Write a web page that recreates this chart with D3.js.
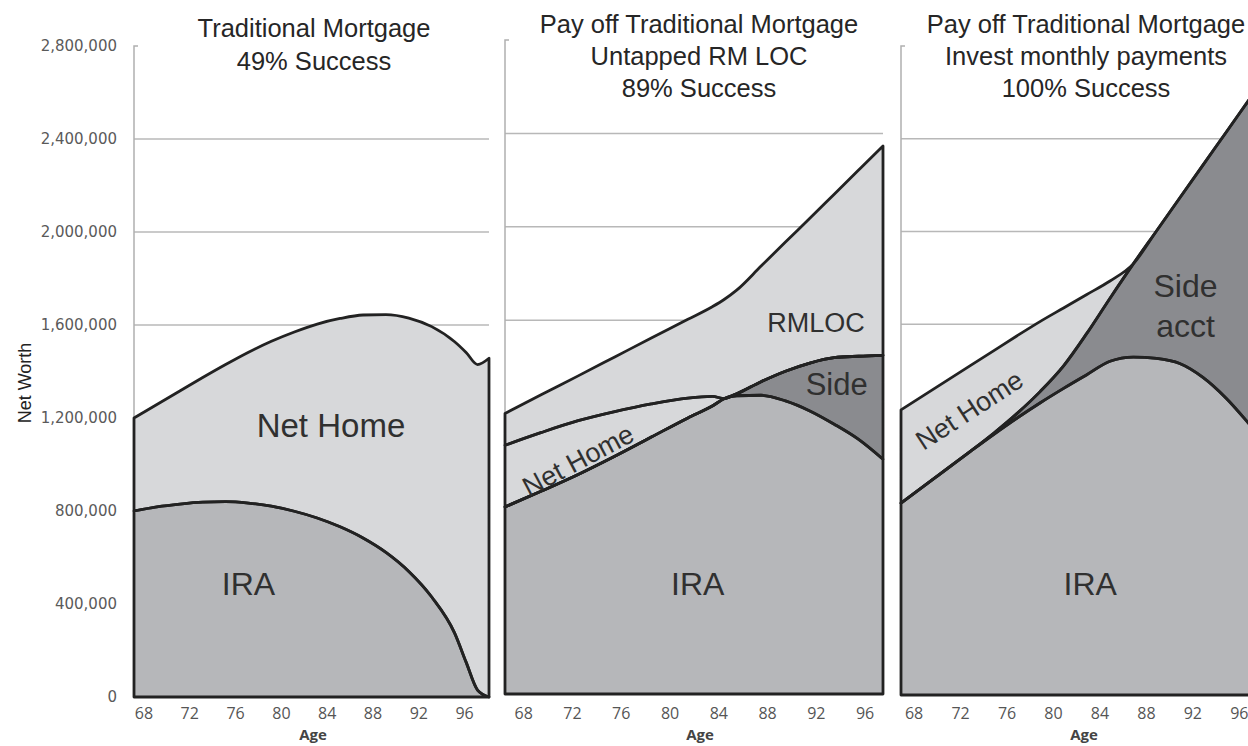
<!DOCTYPE html>
<html>
<head>
<meta charset="utf-8">
<script src="https://cdn.jsdelivr.net/npm/d3@7"></script>
<style>
  body { margin: 0; background: #fff; }
  svg { display: block; }
  .title { font-family: "Liberation Sans", Arial, sans-serif; font-size: 25.5px; fill: #262626; text-anchor: middle; }
  .y-label { font-family: "DejaVu Sans", sans-serif; font-size: 15px; fill: #5a5a5a; }
  .x-label { font-family: "Open Sans", sans-serif; font-size: 16px; fill: #555; }
  .age-label { font-family: "Open Sans", sans-serif; font-weight: bold; font-size: 15px; fill: #444; text-anchor: middle; }
  .worth-label { font-family: "Liberation Sans", Arial, sans-serif; font-size: 18px; fill: #222; text-anchor: middle; }
  .band-label { font-family: "Liberation Sans", Arial, sans-serif; fill: #303030; text-anchor: middle; }
  .grid { stroke: #b8b8b8; stroke-width: 1.5; }
  .axis-line { stroke: #b0b0b0; stroke-width: 1.5; fill: none; }
  .band-edge { fill: none; stroke: #222; stroke-width: 2.8; stroke-linejoin: round; }
</style>
</head>
<body>
<div id="graph"></div>
<script>
const graphWidth = 1248;
const graphHeight = 746;

// all money values in thousands
const yTicks = [0, 400, 800, 1200, 1600, 2000, 2400, 2800];
const ageTicks = [68, 72, 76, 80, 84, 88, 92, 96];

// Traditional Mortgage
const tradAges = [67, 69, 71, 73, 75, 77, 79, 81, 83, 85, 87, 89, 91, 93, 95, 96, 97, 98];
const tradIra = [800, 818, 830, 838, 840, 834, 821, 799, 770, 732, 684, 622, 540, 430, 275, 150, 30, 0];
const tradNetHome = [400, 440, 486, 536, 590, 649, 709, 771, 834, 896, 959, 1023, 1090, 1163, 1253, 1332, 1400, 1457];

// Pay off, untapped RM LOC
const rmAges = [67, 70, 73, 76, 79, 82, 84, 85, 86, 88, 90, 92, 94, 96, 98];
const rmIra = [801, 869, 940, 1018, 1100, 1182, 1233, 1265, 1277, 1279, 1255, 1212, 1155, 1090, 1005];
const rmSide = [0, 0, 0, 0, 0, 0, 0, 0, 8, 58, 127, 205, 285, 356, 445];
const rmNetHome = [264, 251, 230, 191, 142, 85, 41, 0, 0, 0, 0, 0, 0, 0, 0];
const rmLoc = [136, 162, 192, 234, 282, 337, 384, 425, 444, 495, 553, 620, 700, 797, 896];

// Pay off, invest monthly payments
const invAges = [67, 70, 73, 75, 77, 79, 81, 83, 85, 87, 89, 91, 93, 95, 97, 98];
const invIra = [828, 940, 1052, 1125, 1195, 1261, 1323, 1382, 1440, 1458, 1452, 1430, 1370, 1280, 1168, 1110];
const invSide = [0, 0, 0, 5, 20, 49, 97, 178, 272, 402, 550, 714, 916, 1148, 1402, 1531];
const invNetHome = [402, 386, 370, 356, 335, 302, 250, 168, 74, 0, 0, 0, 0, 0, 0, 0];

const stackOrder = ['ira', 'side', 'netHome', 'rmloc'];
const fills = { ira: '#b6b7ba', side: '#8a8b8f', netHome: '#d7d8da', rmloc: '#d7d8da' };

const panels = [
  {
    title: ['Traditional Mortgage', '49% Success'],
    ages: tradAges,
    series: { ira: tradIra, netHome: tradNetHome },
    left: 134, right: 489, top: 46, bottom: 697,
    titleX: 314, titleY: [37, 70], tickDx: -2, ageX: 313,
    labels: [
      { text: 'Net Home', age: 84.2, value: 1118, size: 33 },
      { text: 'IRA', age: 77.0, value: 439, size: 32 }
    ]
  },
  {
    title: ['Pay off Traditional Mortgage', 'Untapped RM LOC', '89% Success'],
    ages: rmAges,
    series: { ira: rmIra, side: rmSide, netHome: rmNetHome, rmloc: rmLoc },
    left: 505, right: 883, top: 40, bottom: 694,
    titleX: 699, titleY: [33, 65, 97], tickDx: 6, ageX: 700,
    labels: [
      { text: 'RMLOC', age: 92.5, value: 1549, size: 27 },
      { text: 'Side', age: 94.2, value: 1279, size: 31 },
      { text: 'Net Home', age: 73.0, value: 1000, size: 27, rotate: -28 },
      { text: 'IRA', age: 82.8, value: 424, size: 32 }
    ]
  },
  {
    title: ['Pay off Traditional Mortgage', 'Invest monthly payments', '100% Success'],
    ages: invAges,
    series: { ira: invIra, side: invSide, netHome: invNetHome },
    left: 901, right: 1261, top: 46, bottom: 695,
    titleX: 1086, titleY: [33, 65, 97], tickDx: 1, ageX: 1084,
    labels: [
      { text: 'Side', age: 91.5, value: 1718, size: 32 },
      { text: 'acct', age: 91.5, value: 1545, size: 32 },
      { text: 'Net Home', age: 72.9, value: 1228, size: 27, rotate: -33 },
      { text: 'IRA', age: 83.3, value: 432, size: 32 }
    ]
  }
];

function makeGraph() {
  const palette = makePalette('#graph', graphWidth, graphHeight);
  panels.forEach((p, i) => makePanel(palette.append('g'), p, i === 0));
  palette.append('text')
    .attr('class', 'worth-label')
    .attr('transform', translate(31, 383) + ' rotate(-90)')
    .text('Net Worth');
}

function makePalette(sel, width, height) {
  return d3.select(sel).append('svg').attr('width', width).attr('height', height);
}

function makePanel(g, p, withYLabels) {
  const x = d3.scaleLinear().domain([67, 98]).range([p.left, p.right]);
  const y = d3.scaleLinear().domain([0, 2800]).range([p.bottom, p.top]);

  // grid + left axis line
  construct(g.append('g'), yTicks.filter(v => v > 0 && v < 2800), 'line')
    .attr('class', 'grid')
    .attr('x1', p.left).attr('x2', Math.min(p.right, graphWidth))
    .attr('y1', d => y(d)).attr('y2', d => y(d));
  g.append('path')
    .attr('class', 'axis-line')
    .attr('d', `M${p.left + 4},${y(2800)}H${p.left}V${y(0)}`);

  if (withYLabels) {
    g.append('g')
      .attr('transform', translate(p.left, 0))
      .call(d3.axisLeft(y).tickValues(yTicks).tickSize(0).tickPadding(17)
        .tickFormat(d => d3.format(',')(d * 1000)))
      .call(a => a.select('.domain').remove())
      .selectAll('text').attr('class', 'y-label');
  }

  // stacked bands
  const keys = stackOrder.filter(k => p.series[k]);
  const rows = p.ages.map((age, i) => {
    const row = { age };
    keys.forEach(k => { row[k] = p.series[k][i]; });
    return row;
  });
  const layers = d3.stack().keys(keys)(rows);
  const area = d3.area()
    .curve(d3.curveMonotoneX)
    .x(d => x(d.data.age))
    .y0(d => y(d[0]))
    .y1(d => y(d[1]));

  construct(g.append('g'), layers, 'path')
    .attr('fill', d => fills[d.key])
    .attr('d', area);
  construct(g.append('g'), layers, 'path')
    .attr('class', 'band-edge')
    .attr('d', area);

  // band labels
  construct(g.append('g'), p.labels, 'text')
    .attr('class', 'band-label')
    .attr('font-size', d => d.size)
    .attr('dominant-baseline', d => d.rotate ? 'central' : null)
    .attr('transform', d => translate(x(d.age), y(d.value)) + (d.rotate ? ` rotate(${d.rotate})` : ''))
    .text(d => d.text);

  // age axis
  g.append('g')
    .attr('transform', translate(0, p.bottom))
    .call(d3.axisBottom(x).tickValues(ageTicks).tickSize(0).tickPadding(719 - p.bottom - 11.5))
    .call(a => a.select('.domain').remove())
    .selectAll('text').attr('class', 'x-label').attr('dx', p.tickDx);

  g.append('text')
    .attr('class', 'age-label')
    .attr('x', p.ageX).attr('y', 740)
    .text('Age');

  // titles
  construct(g.append('g'), p.title, 'text')
    .attr('class', 'title')
    .attr('x', p.titleX)
    .attr('y', (d, i) => p.titleY[i])
    .text(d => d);
}

// Utilities

function construct(sel, data, tag) {
  return sel.selectAll(tag).data(data).enter().append(tag);
}

function translate(x, y) {
  return 'translate(' + x + ',' + y + ')';
}

makeGraph();
</script>
</body>
</html>
